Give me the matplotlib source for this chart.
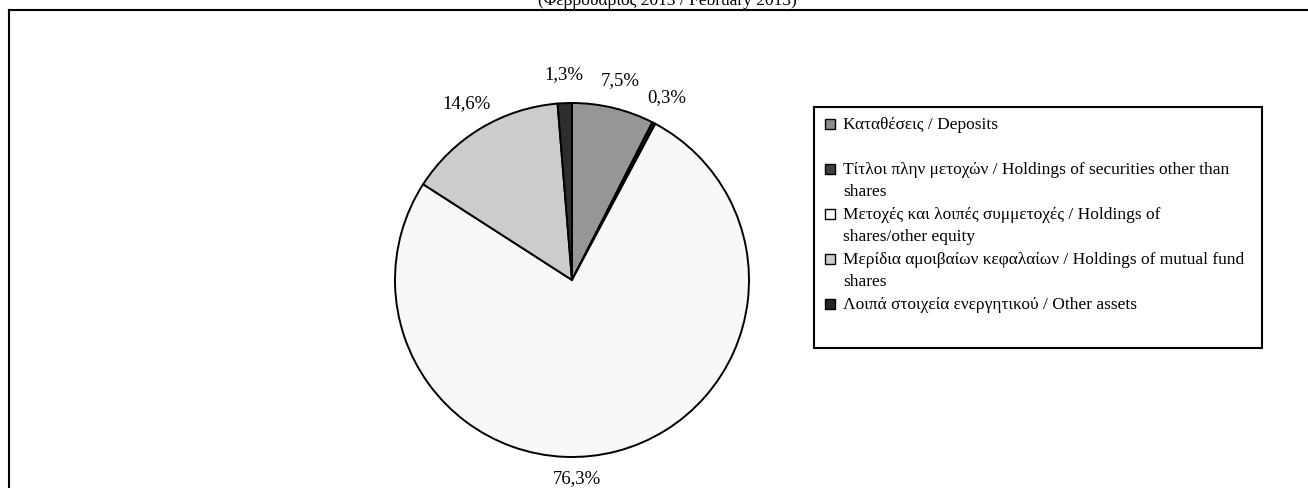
"""Pie chart: asset composition (February 2013)"""

import matplotlib.pyplot as plt
from matplotlib.lines import Line2D
from matplotlib.patches import Rectangle

plt.rcParams["font.family"] = ["Liberation Serif", "DejaVu Serif"]

# data
categories = [
    "Καταθέσεις / Deposits",
    "Τίτλοι πλην μετοχών / Holdings of securities other than\nshares",
    "Μετοχές και λοιπές συμμετοχές / Holdings of\nshares/other equity",
    "Μερίδια αμοιβαίων κεφαλαίων / Holdings of mutual fund\nshares",
    "Λοιπά στοιχεία ενεργητικού / Other assets",
]
shares_pct = [7.5, 0.3, 76.3, 14.6, 1.3]
slice_colors = ["#969696", "#1a1a1a", "#f8f8f8", "#cccccc", "#2d2d2d"]
marker_colors = ["#8c8c8c", "#404040", "#ffffff", "#cccccc", "#262626"]
title = "(Φεβρουάριος 2013 / February 2013)"

W, H = 1308, 488
fig = plt.figure(figsize=(W / 100, H / 100), dpi=100)


def fx(px):
    return px / W


def fy(py):
    # pixel y measured from top
    return 1 - py / H


# outer frame (only top and left edges fall inside the picture)
fig.add_artist(Line2D([fx(9), 1], [fy(10), fy(10)], color="black", lw=1.5))
fig.add_artist(Line2D([fx(9), fx(9)], [fy(10), 0], color="black", lw=1.5))

# title, mostly cut off at the top edge
fig.text(fx(667), fy(5), title, ha="center", va="baseline", fontsize=12.5)

# pie
cx, cy, r = 572, 280, 177
ax = fig.add_axes([fx(cx - r), fy(cy + r), fx(2 * r), (2 * r) / H])
labels = [f"{v:.1f}%".replace(".", ",") for v in shares_pct]
wedges, texts = ax.pie(
    shares_pct,
    colors=slice_colors,
    labels=labels,
    labeldistance=1.16,
    startangle=90,
    counterclock=False,
    wedgeprops=dict(edgecolor="black", linewidth=1.4),
    textprops=dict(fontsize=13.5),
)
ax.set_xlim(-1, 1)
ax.set_ylim(-1, 1)
ax.set_aspect("auto")
for t in texts:
    t.set_ha("center")
# Excel put the big slice's label straight under the pie
texts[2].set_position((0.03, -1.12))

# legend box drawn by hand (Excel-style layout: two text lines per entry)
fig.add_artist(Rectangle((fx(814), fy(348)), fx(1262 - 814), (348 - 107) / H,
                         fill=False, edgecolor="black", lw=1.5))
for i, (label, col) in enumerate(zip(categories, marker_colors)):
    y = 124 + 45 * i
    fig.add_artist(Rectangle((fx(825), fy(y + 5)), fx(10), 10 / H,
                             facecolor=col, edgecolor="black", lw=1.0))
    fig.text(fx(843), fy(y - 7), label, ha="left", va="top",
             fontsize=12.5, linespacing=1.5)

fig.savefig("out.png", dpi=100)
